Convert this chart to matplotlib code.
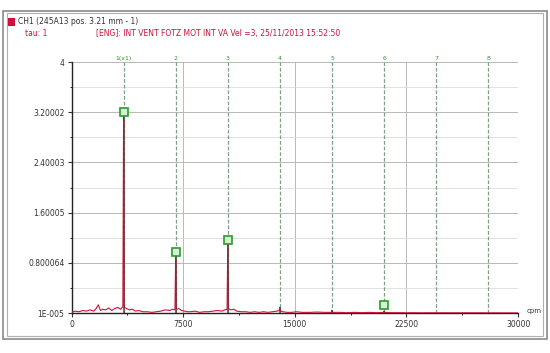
import numpy as np
import matplotlib
matplotlib.use("Agg")
import matplotlib.pyplot as plt
from matplotlib.patches import Rectangle

# spectrum (cpm, mm/s)
freq = [0, 250, 500, 750, 1000, 1250, 1500, 1650, 1800, 1950, 2100, 2300, 2500, 2700,
        2900, 3100, 3300, 3450, 3500, 3550, 3700, 3900, 4100, 4300, 4500, 4800, 5100,
        5400, 5700, 6000, 6300, 6600, 6800, 6950, 7000, 7050, 7200, 7400, 7600, 7800,
        8000, 8300, 8600, 8900, 9200, 9500, 9800, 10100, 10300, 10450, 10500, 10550,
        10700, 10900, 11100, 11400, 11700, 12000, 12300, 12600, 12900, 13200, 13500,
        13800, 13950, 14000, 14050, 14200, 14500, 14800, 15100, 15500, 16000, 16500,
        17000, 17450, 17500, 17550, 18000, 18500, 19000, 19500, 20000, 20500, 20950,
        21000, 21050, 21500, 22000, 22500, 23000, 23500, 24000, 24500, 25000, 25500,
        26000, 26500, 27000, 27500, 28000, 28500, 29000, 29500, 30000]
amp = [0.01, 0.03, 0.02, 0.04, 0.03, 0.05, 0.03, 0.07, 0.13, 0.04, 0.06, 0.05, 0.08,
       0.04, 0.07, 0.09, 0.06, 0.1, 3.21, 0.09, 0.07, 0.05, 0.06, 0.03, 0.04, 0.02,
       0.02, 0.01, 0.02, 0.03, 0.05, 0.04, 0.06, 0.05, 0.97, 0.06, 0.07, 0.04, 0.03,
       0.02, 0.02, 0.03, 0.01, 0.02, 0.02, 0.03, 0.04, 0.03, 0.05, 0.06, 1.16, 0.07,
       0.05, 0.06, 0.03, 0.02, 0.02, 0.01, 0.02, 0.01, 0.02, 0.01, 0.02, 0.03, 0.04,
       0.09, 0.03, 0.02, 0.01, 0.01, 0.02, 0.01, 0.01, 0.015, 0.01, 0.01, 0.04, 0.01,
       0.01, 0.005, 0.01, 0.005, 0.01, 0.005, 0.01, 0.03, 0.01, 0.005, 0.005, 0.004,
       0.005, 0.003, 0.004, 0.003, 0.004, 0.003, 0.003, 0.004, 0.003, 0.003, 0.002,
       0.003, 0.002, 0.002, 0.002]

# peak stems
peak_freq = [3500, 7000, 10500, 14000, 17500, 21000]
peak_amp = [3.21, 0.97, 1.16, 0.09, 0.04, 0.03]

# harmonic markers
harm_freq = [3500, 7000, 10500, 14000, 17500, 21000, 24500, 28000]
harm_lab = ["1(x1)", "2", "3", "4", "5", "6", "7", "8"]
mark_freq = [3500, 7000, 10500, 21000]
mark_amp = [3.21, 0.97, 1.16, 0.12]

xticks = [0, 7500, 15000, 22500, 30000]
xtick_lab = ["0", "7500", "15000", "22500", "30000"]
ytick_lab = ["1E-005", "0.800064", "1.60005", "2.40003", "3.20002", "4"]

ymin, ymax = 1e-5, 4.0

fig = plt.figure(figsize=(5.5, 3.53), dpi=100)

# outer frame
fig.patches.append(Rectangle((0.006, 0.04), 0.988, 0.93, transform=fig.transFigure,
                             fill=False, ec="#8a8a8a", lw=1.2))
fig.patches.append(Rectangle((0.012, 0.048), 0.976, 0.915, transform=fig.transFigure,
                             fill=False, ec="#b0b0b0", lw=0.8))
fig.patches.append(Rectangle((0.015, 0.925), 0.012, 0.025, transform=fig.transFigure,
                             fc="#d0103a", ec="none"))
fig.text(0.032, 0.938, "CH1 (245A13 pos. 3.21 mm - 1)", fontsize=5.5, color="#333333",
         va="center")
fig.text(0.045, 0.906, "tau: 1", fontsize=5.5, color="#d0103a", va="center")
fig.text(0.175, 0.906, "[ENG]: INT VENT FOTZ MOT INT VA Vel =3, 25/11/2013 15:52:50",
         fontsize=5.5, color="#d0103a", va="center")

ax = fig.add_axes([0.130, 0.1133, 0.812, 0.711])
ax.set_xlim(0, 30000)
ax.set_ylim(ymin, ymax)

for s in ["top", "right"]:
    ax.spines[s].set_visible(False)
for s in ["left", "bottom"]:
    ax.spines[s].set_color("#222222")
    ax.spines[s].set_linewidth(1.0)

ax.set_xticks(xticks)
ax.set_xticklabels(xtick_lab)
ax.set_xticks([3750, 11250, 18750, 26250], minor=True)
yt = np.linspace(ymin, ymax, len(ytick_lab))
ax.set_yticks(yt)
ax.set_yticklabels(ytick_lab)
ax.set_yticks((yt[:-1] + yt[1:]) / 2, minor=True)
ax.tick_params(labelsize=5.5, colors="#333333", length=3, width=0.8, pad=2)
ax.tick_params(which="minor", length=1.5, width=0.6)

ax.grid(True, which="major", color="#b8b8b8", lw=0.7)
ax.grid(True, which="minor", axis="y", color="#dcdcdc", lw=0.6)

for f, lab in zip(harm_freq, harm_lab):
    ax.axvline(f, color="#7f9f88", lw=0.9, ls=(0, (3, 1.5)), zorder=2)
    ax.text(f, ymax + 0.02, lab, fontsize=4.5, color="#2a9a2a", ha="center",
            va="bottom", clip_on=False)

ax.plot(freq, amp, color="#d0103a", lw=0.8, zorder=3)
ax.vlines(peak_freq, 0, peak_amp, color="#6e3a3a", lw=1.1, zorder=4)
ax.plot(mark_freq, mark_amp, ls="none", marker="s", ms=6, mfc="#d8f0d8",
        mec="#2a9a2a", mew=1.2, zorder=5)

fig.text(0.985, 0.118, "cpm", fontsize=5, color="#333333", ha="right", va="center")

fig.savefig("out.png", dpi=100)
